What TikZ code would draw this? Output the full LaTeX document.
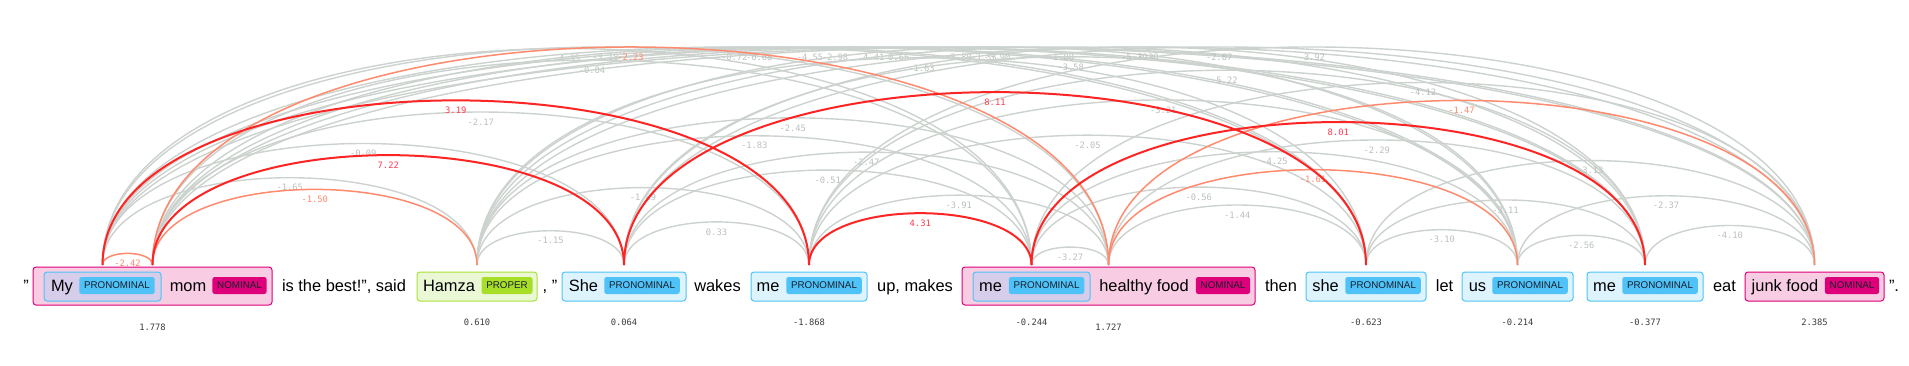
\documentclass[tikz,border=0pt]{standalone}
\usepackage{fontspec}
\setmainfont{Liberation Sans}
\newfontfamily\scorefont{DejaVu Sans Mono}

\definecolor{arcgrey}{RGB}{204,210,206}
\definecolor{lblgrey}{RGB}{186,192,188}
\definecolor{arcred}{RGB}{255,36,36}
\definecolor{lblred}{RGB}{255,60,82}
\definecolor{arcsalmon}{RGB}{255,138,110}
\definecolor{pronfill}{RGB}{221,243,253}
\definecolor{pronline}{RGB}{79,195,247}
\definecolor{nomfill}{RGB}{248,205,228}
\definecolor{nomline}{RGB}{222,0,122}
\definecolor{mixfill}{RGB}{214,205,234}
\definecolor{propfill}{RGB}{235,248,214}
\definecolor{propline}{RGB}{170,226,52}
\definecolor{proptag}{RGB}{166,222,40}
\definecolor{tagtext}{RGB}{25,30,45}
\definecolor{scoregrey}{RGB}{60,60,60}

\tikzset{
    arcpath/.style={to path={.. controls +(0,-#1) and +(0,-#1) .. (\tikztotarget) \tikztonodes}},
    garc/.style={arcpath=#1, draw=arcgrey, line width=0.7pt},
    sarc/.style={arcpath=#1, draw=arcsalmon, line width=0.75pt},
    rarc/.style={arcpath=#1, draw=arcred, line width=1pt},
    lbl/.style={midway, yshift=-5pt, inner sep=0pt, font=\scorefont\fontsize{4.4}{5}\selectfont},
    glbl/.style={lbl, text=lblgrey},
    slbl/.style={lbl, text=arcsalmon},
    rlbl/.style={lbl, text=lblred},
    mention/.style={draw=pronline, fill=pronfill, line width=0.5pt, rounded corners=1.5pt,
        minimum width=#1, minimum height=14.5pt, inner sep=0pt},
    outer/.style={draw=nomline, fill=nomfill, line width=0.5pt, rounded corners=1.5pt,
        minimum width=#1, minimum height=19pt, inner sep=0pt},
    tagbox/.style={fill=#1, rounded corners=1.2pt, minimum height=8.5pt, inner xsep=2.4pt,
        inner ysep=0pt, text=tagtext, font=\fontsize{4.9}{5}\selectfont},
    word/.style={anchor=base, inner sep=0pt, font=\fontsize{8.2}{10}\selectfont},
    score/.style={inner sep=0pt, text=scoregrey, font=\scorefont\fontsize{4.4}{5}\selectfont}
}

\begin{document}
\begin{tikzpicture}[x=0.5pt, y=-0.5pt]
    \useasboundingbox (0,0) rectangle (1909,365);

    % mention boxes
    \node[outer=119.5pt] (mymom) at (152.5,286) {};
    \node[mention=58.5pt, fill=mixfill] (my) at (102.5,286.5) {};
    \node[mention=60pt, draw=propline, fill=propfill] (hamza) at (477,286.5) {};
    \node[mention=62pt] (she1) at (624,286.5) {};
    \node[mention=58pt] (me1) at (809,286.5) {};
    \node[outer=146.5pt] (mefood) at (1108.5,286) {};
    \node[mention=58.5pt, fill=mixfill] (me2) at (1031.5,286.5) {};
    \node[mention=60pt] (she2) at (1366,286.5) {};
    \node[mention=55.5pt] (us) at (1517.5,286.5) {};
    \node[mention=58pt] (me3) at (1645,286.5) {};
    \node[outer=69.5pt, minimum height=14.5pt] (junk) at (1814.5,286.5) {};

    % words
    \node[word] (wq1) at (26,291) {"};
    \node[word] (wmy) at (62,291) {My};
    \node[word] (wmom) at (188,291) {mom};
    \node[word] (wsaid) at (344,291) {is the best!", said};
    \node[word] (whamza) at (449,291) {Hamza};
    \node[word] (wq2) at (550,291) {, "};
    \node[word] (wshe1) at (583.5,291) {She};
    \node[word] (wwakes) at (717.5,291) {wakes};
    \node[word] (wme1) at (768,291) {me};
    \node[word] (wmakes) at (915,291) {up, makes};
    \node[word] (wme2) at (990.5,291) {me};
    \node[word] (wfood) at (1144,291) {healthy food};
    \node[word] (wthen) at (1281,291) {then};
    \node[word] (wshe2) at (1325.5,291) {she};
    \node[word] (wlet) at (1444.5,291) {let};
    \node[word] (wus) at (1477.5,291) {us};
    \node[word] (wme3) at (1604.5,291) {me};
    \node[word] (weat) at (1724.5,291) {eat};
    \node[word] (wjunk) at (1785,291) {junk food};
    \node[word] (wq3) at (1894,291) {".};

    % tags
    \node[tagbox=pronline] (tmy) at (117,285.5) {PRONOMINAL};
    \node[tagbox=nomline] (tmom) at (239.5,285.5) {NOMINAL};
    \node[tagbox=proptag] (thamza) at (507,285.5) {PROPER};
    \node[tagbox=pronline] (tshe1) at (642,285.5) {PRONOMINAL};
    \node[tagbox=pronline] (tme1) at (824,285.5) {PRONOMINAL};
    \node[tagbox=pronline] (tme2) at (1046.5,285.5) {PRONOMINAL};
    \node[tagbox=nomline] (tfood) at (1223,285.5) {NOMINAL};
    \node[tagbox=pronline] (tshe2) at (1383,285.5) {PRONOMINAL};
    \node[tagbox=pronline] (tus) at (1530,285.5) {PRONOMINAL};
    \node[tagbox=pronline] (tme3) at (1660,285.5) {PRONOMINAL};
    \node[tagbox=nomline] (tjunk) at (1852,285.5) {NOMINAL};

    % mention scores
    \node[score] (s2) at (152.5,327) {1.778};
    \node[score] (s3) at (477,322) {0.610};
    \node[score] (s4) at (624,322) {0.064};
    \node[score] (s5) at (809,322) {-1.868};
    \node[score] (s6) at (1031.5,322) {-0.244};
    \node[score] (s7) at (1108.5,327) {1.727};
    \node[score] (s8) at (1366,322) {-0.623};
    \node[score] (s9) at (1517.5,322) {-0.214};
    \node[score] (s10) at (1645,322) {-0.377};
    \node[score] (s11) at (1814.5,322) {2.385};

    % arc ends
    \coordinate (p1) at (my.north |- 0,265);
    \coordinate (p2) at (mymom.north |- 0,265);
    \coordinate (p3) at (hamza.north |- 0,265);
    \coordinate (p4) at (she1.north |- 0,265);
    \coordinate (p5) at (me1.north |- 0,265);
    \coordinate (p6) at (me2.north |- 0,265);
    \coordinate (p7) at (mefood.north |- 0,265);
    \coordinate (p8) at (she2.north |- 0,265);
    \coordinate (p9) at (us.north |- 0,265);
    \coordinate (p10) at (me3.north |- 0,265);
    \coordinate (p11) at (junk.north |- 0,265);

    \draw
    (p1) edge[garc=116.4] node[glbl] {-1.65} (p3)
    (p1) edge[garc=162.0] node[glbl] {-0.09} (p4)
    (p1) edge[garc=288.6] node[glbl] {-4.35} (p6)
    (p1) edge[garc=290.7] node[glbl] {-3.18} (p7)
    (p1) edge[garc=290.7] node[glbl] {-0.72} (p8)
    (p1) edge[garc=290.7] node[glbl] {-4.55} (p9)
    (p1) edge[garc=290.7] node[glbl] {4.41} (p10)
    (p1) edge[garc=290.7] node[glbl] {-5.80} (p11)
    (p2) edge[garc=204.0] node[glbl] {-2.17} (p5)
    (p2) edge[garc=273.1] node[glbl] {-0.84} (p6)
    (p2) edge[garc=290.7] node[glbl] {-0.68} (p8)
    (p2) edge[garc=290.7] node[glbl] {-2.98} (p9)
    (p2) edge[garc=290.7] node[glbl] {0.66} (p10)
    (p2) edge[garc=290.7] node[glbl] {-3.33} (p11)
    (p3) edge[garc=45.7] node[glbl] {-1.15} (p4)
    (p3) edge[garc=103.2] node[glbl] {-1.89} (p5)
    (p3) edge[garc=172.3] node[glbl] {-1.83} (p6)
    (p3) edge[garc=196.2] node[glbl] {-2.45} (p7)
    (p3) edge[garc=276.2] node[glbl] {-1.63} (p8)
    (p3) edge[garc=290.7] node[glbl] {-3.90} (p9)
    (p3) edge[garc=290.7] node[glbl] {-1.88} (p10)
    (p3) edge[garc=290.7] node[glbl] {-3.38} (p11)
    (p4) edge[garc=57.5] node[glbl] {0.33} (p5)
    (p4) edge[garc=126.6] node[glbl] {-0.51} (p6)
    (p4) edge[garc=150.5] node[glbl] {-2.47} (p7)
    (p4) edge[garc=277.6] node[glbl] {-3.58} (p9)
    (p4) edge[garc=290.7] node[glbl] {-5.19} (p10)
    (p4) edge[garc=290.7] node[glbl] {-2.87} (p11)
    (p5) edge[garc=93.1] node[glbl] {-3.91} (p7)
    (p5) edge[garc=173.1] node[glbl] {-2.05} (p8)
    (p5) edge[garc=220.1] node[glbl] {-3.21} (p9)
    (p5) edge[garc=259.7] node[glbl] {5.22} (p10)
    (p5) edge[garc=290.7] node[glbl] {-3.92} (p11)
    (p6) edge[garc=23.9] node[glbl] {-3.27} (p7)
    (p6) edge[garc=103.9] node[glbl] {-0.56} (p8)
    (p6) edge[garc=151.0] node[glbl] {-4.25} (p9)
    (p6) edge[garc=243.3] node[glbl] {-4.12} (p11)
    (p7) edge[garc=80.0] node[glbl] {-1.44} (p8)
    (p7) edge[garc=166.7] node[glbl] {-2.29} (p10)
    (p8) edge[garc=47.1] node[glbl] {-3.10} (p9)
    (p8) edge[garc=86.7] node[glbl] {-3.11} (p10)
    (p8) edge[garc=139.3] node[glbl] {-3.13} (p11)
    (p9) edge[garc=39.6] node[glbl] {-2.56} (p10)
    (p9) edge[garc=92.3] node[glbl] {-2.37} (p11)
    (p10) edge[garc=52.7] node[glbl] {-4.10} (p11);

    % best antecedents
    \draw
    (p1) edge[sarc=15.5] node[slbl] {-2.42} (p2)
    (p2) edge[sarc=100.8] node[slbl] {-1.50} (p3)
    (p2) edge[sarc=290.7] node[slbl] {-2.23} (p7)
    (p7) edge[sarc=127.1] node[slbl] {-1.61} (p9)
    (p7) edge[sarc=219.4] node[slbl] {-1.47} (p11)
    (p1) edge[rarc=219.5] node[rlbl] {3.19} (p5)
    (p2) edge[rarc=146.5] node[rlbl] {7.22} (p4)
    (p4) edge[rarc=230.5] node[rlbl] {8.11} (p8)
    (p5) edge[rarc=69.1] node[rlbl] {4.31} (p6)
    (p6) edge[rarc=190.6] node[rlbl] {8.01} (p10);
\end{tikzpicture}
\end{document}
